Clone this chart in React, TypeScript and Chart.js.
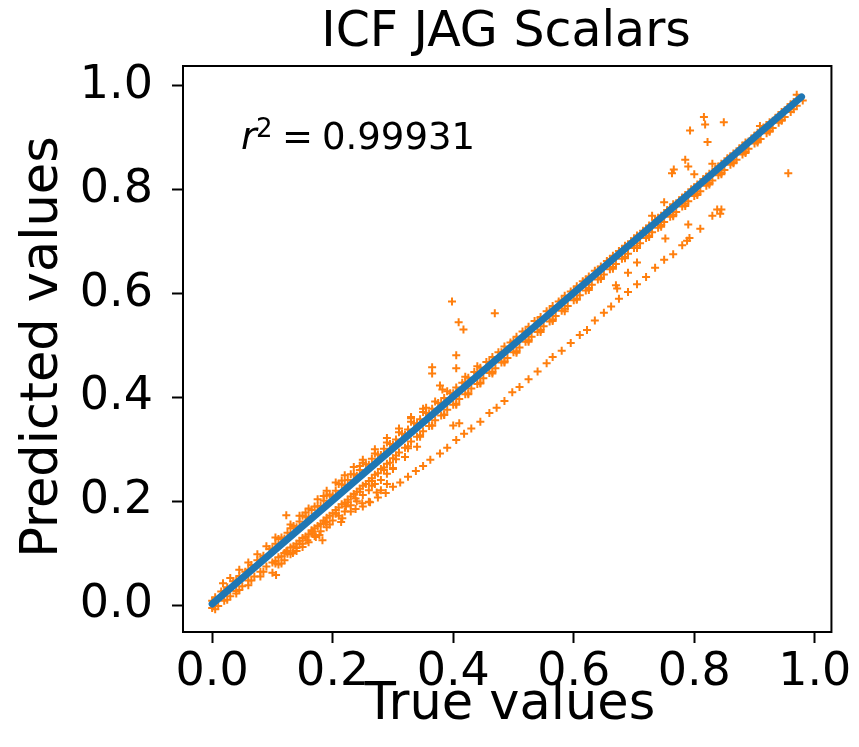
import React, { useEffect, useRef } from "react";
import { Chart, registerables } from "chart.js";

Chart.register(...registerables);

const FONT = "'DejaVu Sans', 'Liberation Sans', sans-serif";

const titleText = "ICF JAG Scalars";
const xLabel = "True values";
const yLabel = "Predicted values";
const r2Value = "0.99931";
const tickValues = [0, 0.2, 0.4, 0.6, 0.8, 1.0];

const fitLineX = [0.0, 0.978];
const fitLineY = [0.002, 0.979];

const bandUpper: number[][] = [
  [0.005, 0.015], [0.015, 0.026], [0.025, 0.034], [0.035, 0.046], [0.045, 0.056], [0.055, 0.064], [0.065, 0.077], [0.075, 0.086],
  [0.085, 0.095], [0.095, 0.108], [0.105, 0.118], [0.115, 0.13], [0.125, 0.139], [0.135, 0.152], [0.145, 0.161], [0.155, 0.17],
  [0.165, 0.183], [0.175, 0.19], [0.185, 0.201], [0.195, 0.213], [0.205, 0.22], [0.215, 0.232], [0.225, 0.241], [0.235, 0.252],
  [0.245, 0.26], [0.255, 0.271], [0.265, 0.282], [0.275, 0.29], [0.285, 0.301], [0.295, 0.31], [0.305, 0.319], [0.315, 0.33],
  [0.325, 0.338], [0.335, 0.35], [0.345, 0.358], [0.355, 0.37], [0.365, 0.378], [0.375, 0.389], [0.385, 0.399], [0.395, 0.408],
  [0.405, 0.419], [0.415, 0.428], [0.425, 0.438], [0.435, 0.449], [0.445, 0.457], [0.455, 0.468], [0.465, 0.478], [0.475, 0.487],
  [0.485, 0.498], [0.495, 0.506], [0.505, 0.517], [0.515, 0.527], [0.525, 0.536], [0.535, 0.547], [0.545, 0.555], [0.555, 0.566],
  [0.565, 0.576], [0.575, 0.585], [0.585, 0.596], [0.595, 0.604], [0.605, 0.614], [0.615, 0.624], [0.625, 0.633], [0.635, 0.644],
  [0.645, 0.652], [0.655, 0.663], [0.665, 0.673], [0.675, 0.682], [0.685, 0.692], [0.695, 0.701], [0.705, 0.712], [0.715, 0.721],
  [0.725, 0.731], [0.735, 0.742], [0.745, 0.75], [0.755, 0.761], [0.765, 0.772], [0.775, 0.78], [0.785, 0.79], [0.795, 0.801],
  [0.805, 0.81], [0.815, 0.821], [0.825, 0.831], [0.835, 0.84], [0.845, 0.85], [0.855, 0.861], [0.865, 0.87], [0.875, 0.88],
  [0.885, 0.891], [0.895, 0.899], [0.905, 0.91], [0.915, 0.92], [0.925, 0.93], [0.935, 0.939], [0.945, 0.95], [0.955, 0.959],
  [0.965, 0.969],
];

const bandUpper2: number[][] = [
  [0.0, 0.008], [0.02, 0.027], [0.04, 0.047], [0.06, 0.068], [0.08, 0.087], [0.1, 0.109], [0.12, 0.128], [0.14, 0.15],
  [0.16, 0.169], [0.18, 0.191], [0.2, 0.21], [0.22, 0.231], [0.24, 0.249], [0.26, 0.27], [0.28, 0.289], [0.3, 0.309],
  [0.32, 0.328], [0.34, 0.349], [0.36, 0.368], [0.38, 0.389], [0.4, 0.408], [0.42, 0.429], [0.44, 0.447], [0.46, 0.468],
  [0.48, 0.487], [0.5, 0.508], [0.52, 0.527], [0.54, 0.547], [0.56, 0.567], [0.58, 0.587], [0.6, 0.606], [0.62, 0.627],
  [0.64, 0.646], [0.66, 0.666], [0.68, 0.686], [0.7, 0.706], [0.72, 0.725], [0.74, 0.746], [0.76, 0.765], [0.78, 0.785],
  [0.8, 0.805], [0.82, 0.825], [0.84, 0.845], [0.86, 0.864], [0.88, 0.885], [0.9, 0.904], [0.92, 0.925], [0.94, 0.944],
  [0.96, 0.965],
];

const bandLower: number[][] = [
  [0.0, -0.006], [0.01, -0.002], [0.02, 0.008], [0.03, 0.017], [0.04, 0.027], [0.05, 0.036], [0.06, 0.047], [0.07, 0.055],
  [0.08, 0.064], [0.09, 0.074], [0.1, 0.082], [0.11, 0.092], [0.12, 0.1], [0.13, 0.111], [0.14, 0.118], [0.15, 0.129],
  [0.16, 0.136], [0.17, 0.148], [0.18, 0.156], [0.19, 0.168], [0.2, 0.177], [0.21, 0.188], [0.22, 0.197], [0.23, 0.209],
  [0.24, 0.218], [0.25, 0.23], [0.26, 0.239], [0.27, 0.251], [0.28, 0.262], [0.29, 0.272], [0.3, 0.283], [0.31, 0.294],
  [0.32, 0.303], [0.33, 0.315], [0.34, 0.324], [0.35, 0.335], [0.36, 0.345], [0.37, 0.356], [0.38, 0.365], [0.39, 0.376],
  [0.4, 0.386], [0.41, 0.397], [0.42, 0.406], [0.43, 0.417], [0.44, 0.426], [0.45, 0.437], [0.46, 0.447], [0.47, 0.456],
  [0.48, 0.467], [0.49, 0.476], [0.5, 0.487], [0.51, 0.496], [0.52, 0.507], [0.53, 0.517], [0.54, 0.526], [0.55, 0.537],
  [0.56, 0.546], [0.57, 0.557], [0.58, 0.567], [0.59, 0.576], [0.6, 0.587], [0.61, 0.597], [0.62, 0.606], [0.63, 0.617],
  [0.64, 0.627], [0.65, 0.637], [0.66, 0.647], [0.67, 0.657], [0.68, 0.667], [0.69, 0.677], [0.7, 0.688], [0.71, 0.697],
  [0.72, 0.707], [0.73, 0.718], [0.74, 0.727], [0.75, 0.738], [0.76, 0.748], [0.77, 0.757], [0.78, 0.768], [0.79, 0.778],
  [0.8, 0.788], [0.81, 0.797], [0.82, 0.808], [0.83, 0.818], [0.84, 0.828], [0.85, 0.838], [0.86, 0.848], [0.87, 0.858],
  [0.88, 0.868], [0.89, 0.879], [0.9, 0.889], [0.91, 0.898], [0.92, 0.909], [0.93, 0.919], [0.94, 0.929], [0.95, 0.94],
  [0.96, 0.95], [0.97, 0.962], [0.98, 0.972],
];

const bandLower2: number[][] = [
  [0.005, -0.008], [0.025, 0.01], [0.045, 0.029], [0.065, 0.047], [0.085, 0.064], [0.105, 0.08], [0.125, 0.099], [0.145, 0.118],
  [0.165, 0.138], [0.185, 0.157], [0.205, 0.176], [0.225, 0.198], [0.245, 0.218], [0.265, 0.239], [0.285, 0.26], [0.305, 0.281],
  [0.325, 0.302], [0.345, 0.324], [0.365, 0.346], [0.385, 0.366], [0.405, 0.388], [0.425, 0.408], [0.445, 0.428], [0.465, 0.449],
  [0.485, 0.469], [0.505, 0.489], [0.525, 0.51], [0.545, 0.53], [0.565, 0.55], [0.585, 0.571], [0.605, 0.59], [0.625, 0.611],
  [0.645, 0.631], [0.665, 0.651], [0.685, 0.671], [0.705, 0.692], [0.725, 0.712], [0.745, 0.732], [0.765, 0.752], [0.785, 0.773],
  [0.805, 0.793], [0.825, 0.813], [0.845, 0.833], [0.865, 0.853], [0.885, 0.874], [0.905, 0.894], [0.925, 0.914], [0.945, 0.935],
  [0.965, 0.955],
];

const bandWide: number[][] = [
  [0.105, 0.085], [0.115, 0.094], [0.125, 0.104], [0.135, 0.113], [0.145, 0.124], [0.155, 0.132], [0.165, 0.144], [0.175, 0.152],
  [0.185, 0.163], [0.195, 0.172], [0.205, 0.183], [0.215, 0.194], [0.225, 0.203], [0.235, 0.214], [0.245, 0.224], [0.255, 0.233],
  [0.265, 0.244], [0.275, 0.254], [0.285, 0.265], [0.295, 0.274], [0.305, 0.288], [0.325, 0.306], [0.345, 0.327], [0.365, 0.346],
  [0.385, 0.367], [0.405, 0.386], [0.425, 0.406], [0.445, 0.427], [0.465, 0.446], [0.485, 0.467], [0.505, 0.486], [0.525, 0.507],
  [0.545, 0.526], [0.565, 0.547], [0.585, 0.566], [0.605, 0.588], [0.625, 0.607], [0.645, 0.628], [0.665, 0.648], [0.685, 0.668],
  [0.705, 0.688], [0.725, 0.709], [0.745, 0.729], [0.765, 0.749], [0.785, 0.769], [0.805, 0.79], [0.825, 0.81], [0.845, 0.83],
  [0.865, 0.851], [0.885, 0.871], [0.905, 0.891], [0.925, 0.912], [0.945, 0.933],
];

const blobLow: number[][] = [
  [0.11, 0.078], [0.12, 0.086], [0.13, 0.098], [0.14, 0.104], [0.15, 0.112], [0.16, 0.121], [0.17, 0.133], [0.18, 0.142],
  [0.19, 0.15], [0.2, 0.163], [0.21, 0.172], [0.22, 0.18], [0.23, 0.192], [0.24, 0.2], [0.25, 0.212], [0.26, 0.221],
  [0.27, 0.233], [0.28, 0.241], [0.29, 0.253], [0.3, 0.264],
];

const blobHigh: number[][] = [
  [0.11, 0.127], [0.13, 0.148], [0.15, 0.172], [0.17, 0.19], [0.19, 0.211], [0.21, 0.233], [0.23, 0.252], [0.25, 0.274],
  [0.27, 0.292], [0.29, 0.313], [0.31, 0.333], [0.33, 0.353], [0.35, 0.372], [0.37, 0.392], [0.39, 0.412], [0.155, 0.178],
  [0.185, 0.21], [0.215, 0.24], [0.245, 0.268],
];

const spreadLow: number[][] = [
  [0.018, 0.042], [0.03, 0.052], [0.045, 0.068], [0.06, 0.082], [0.075, 0.098], [0.09, 0.113], [0.105, 0.13], [0.123, 0.173],
  [0.13, 0.155], [0.145, 0.172], [0.16, 0.186], [0.175, 0.204], [0.19, 0.22], [0.205, 0.236], [0.22, 0.25], [0.235, 0.266],
  [0.25, 0.28], [0.27, 0.3], [0.29, 0.322], [0.31, 0.34], [0.33, 0.362], [0.35, 0.378],
  [0.04, 0.022], [0.06, 0.038], [0.08, 0.055], [0.1, 0.062], [0.106, 0.058], [0.115, 0.08], [0.123, 0.103], [0.134, 0.1],
  [0.14, 0.11], [0.15, 0.118], [0.158, 0.125], [0.167, 0.141], [0.172, 0.131], [0.178, 0.135], [0.183, 0.125], [0.189, 0.16],
  [0.195, 0.155], [0.205, 0.177], [0.214, 0.16], [0.216, 0.167], [0.222, 0.19], [0.23, 0.18], [0.238, 0.205], [0.249, 0.196],
  [0.26, 0.199], [0.265, 0.23], [0.273, 0.217], [0.28, 0.221], [0.29, 0.233], [0.3, 0.262], [0.32, 0.285], [0.34, 0.305],
];

const secondaryRow: number[][] = [
  [0.238, 0.185], [0.25, 0.19], [0.262, 0.198], [0.275, 0.207], [0.288, 0.216], [0.3, 0.228], [0.312, 0.236], [0.325, 0.247],
  [0.338, 0.258], [0.35, 0.268], [0.362, 0.28], [0.378, 0.292], [0.39, 0.303], [0.405, 0.318], [0.418, 0.33], [0.43, 0.34],
  [0.445, 0.353], [0.46, 0.37], [0.472, 0.38], [0.485, 0.393], [0.498, 0.41], [0.51, 0.42], [0.525, 0.435], [0.54, 0.45],
  [0.555, 0.466], [0.565, 0.478], [0.58, 0.49], [0.595, 0.505], [0.61, 0.52], [0.622, 0.53], [0.635, 0.548], [0.65, 0.563],
  [0.662, 0.575], [0.675, 0.59], [0.69, 0.603], [0.705, 0.618], [0.72, 0.632], [0.735, 0.65], [0.75, 0.665], [0.765, 0.676],
  [0.78, 0.693], [0.792, 0.707], [0.81, 0.725], [0.83, 0.75], [0.845, 0.762],
];

const outliers: number[][] = [
  [0.398, 0.585], [0.469, 0.562], [0.409, 0.545], [0.417, 0.531], [0.405, 0.481], [0.365, 0.458], [0.365, 0.446], [0.405, 0.456],
  [0.378, 0.423], [0.382, 0.415], [0.42, 0.44], [0.44, 0.46], [0.33, 0.36], [0.355, 0.38],
  [0.816, 0.94], [0.818, 0.926], [0.849, 0.93], [0.793, 0.914], [0.822, 0.892], [0.785, 0.858], [0.79, 0.845], [0.766, 0.839],
  [0.763, 0.832], [0.75, 0.776], [0.73, 0.75], [0.97, 0.983], [0.909, 0.923], [0.956, 0.832], [0.8, 0.83], [0.83, 0.85],
  [0.752, 0.706], [0.843, 0.754], [0.838, 0.762], [0.79, 0.733], [0.788, 0.702], [0.4, 0.346], [0.41, 0.35], [0.69, 0.64],
  [0.705, 0.66], [0.67, 0.616], [0.672, 0.61],
];

const toPoints = (arr: number[][]) => arr.map(([x, y]) => ({ x, y }));

const textPlugin = {
  id: "texts",
  afterDraw(chart: any) {
    const { ctx, chartArea } = chart;
    ctx.save();
    ctx.strokeStyle = "#000";
    ctx.lineWidth = 2;
    ctx.strokeRect(chartArea.left, chartArea.top, chartArea.right - chartArea.left, chartArea.bottom - chartArea.top);
    ctx.fillStyle = "#000";
    ctx.textBaseline = "alphabetic";
    ctx.textAlign = "center";
    ctx.font = `49px ${FONT}`;
    ctx.fillText(titleText, 506, 46);
    ctx.font = `51px ${FONT}`;
    ctx.fillText(xLabel, 510, 719);
    ctx.save();
    ctx.translate(57, 347);
    ctx.rotate(-Math.PI / 2);
    ctx.fillText(yLabel, 0, 0);
    ctx.restore();
    ctx.textAlign = "left";
    ctx.font = `italic 38px ${FONT}`;
    ctx.fillText("r", 241, 149);
    ctx.font = `26px ${FONT}`;
    ctx.fillText("2", 256, 137);
    ctx.font = `37px ${FONT}`;
    ctx.fillText("=", 282, 149);
    ctx.fillText(r2Value, 322, 149);
    ctx.restore();
  },
};

export default function App() {
  const ref = useRef<HTMLCanvasElement>(null);
  useEffect(() => {
    if (!ref.current) return;
    const orange = "#ff7f0e";
    const pointDs = (data: number[][]) => ({
      type: "scatter" as const,
      data: toPoints(data),
      pointStyle: "cross",
      pointRadius: 4,
      pointBorderWidth: 2,
      borderColor: orange,
      backgroundColor: orange,
      showLine: false,
      order: 2,
    });
    const chart = new Chart(ref.current, {
      type: "scatter",
      data: {
        datasets: [
          {
            type: "line" as const,
            data: fitLineX.map((x, i) => ({ x, y: fitLineY[i] })),
            borderColor: "#1f77b4",
            borderWidth: 7,
            borderCapStyle: "round",
            pointRadius: 0,
            showLine: true,
            fill: false,
            order: 0,
          } as any,
          pointDs(bandUpper),
          pointDs(bandUpper2),
          pointDs(bandLower),
          pointDs(bandLower2),
          pointDs(bandWide),
          pointDs(blobLow),
          pointDs(blobHigh),
          pointDs(spreadLow),
          pointDs(secondaryRow),
          pointDs(outliers),
        ],
      },
      options: {
        animation: false,
        responsive: false,
        devicePixelRatio: 1,
        layout: { padding: { left: 0, top: 66, right: 24, bottom: 0 } },
        plugins: { legend: { display: false }, tooltip: { enabled: false }, title: { display: false } },
        scales: {
          x: {
            type: "linear",
            min: -0.0484,
            max: 1.0276,
            afterBuildTicks: (s: any) => {
              s.ticks = tickValues.map((v) => ({ value: v }));
            },
            afterFit: (s: any) => {
              s.height = 115;
            },
            grid: { drawOnChartArea: false, drawTicks: true, tickLength: 11, tickWidth: 2, tickColor: "#000" },
            border: { display: true, color: "#000", width: 2 },
            ticks: {
              color: "#000",
              padding: 7,
              maxRotation: 0,
              font: { family: FONT, size: 46, lineHeight: 1 },
              callback: (v: any) => Number(v).toFixed(1),
            },
          },
          y: {
            type: "linear",
            min: -0.052,
            max: 1.0385,
            afterBuildTicks: (s: any) => {
              s.ticks = tickValues.map((v) => ({ value: v }));
            },
            afterFit: (s: any) => {
              s.width = 183;
            },
            grid: { drawOnChartArea: false, drawTicks: true, tickLength: 11, tickWidth: 2, tickColor: "#000" },
            border: { display: true, color: "#000", width: 2 },
            ticks: {
              color: "#000",
              padding: 19,
              font: { family: FONT, size: 46, lineHeight: 1 },
              callback: (v: any) => Number(v).toFixed(1),
            },
          },
        },
      },
      plugins: [textPlugin],
    });
    return () => chart.destroy();
  }, []);
  return (
    <div style={{ position: "fixed", left: 0, top: 0, width: 859, height: 747, background: "#fff" }}>
      <canvas ref={ref} width={859} height={747} style={{ width: 859, height: 747, display: "block" }} />
    </div>
  );
}
